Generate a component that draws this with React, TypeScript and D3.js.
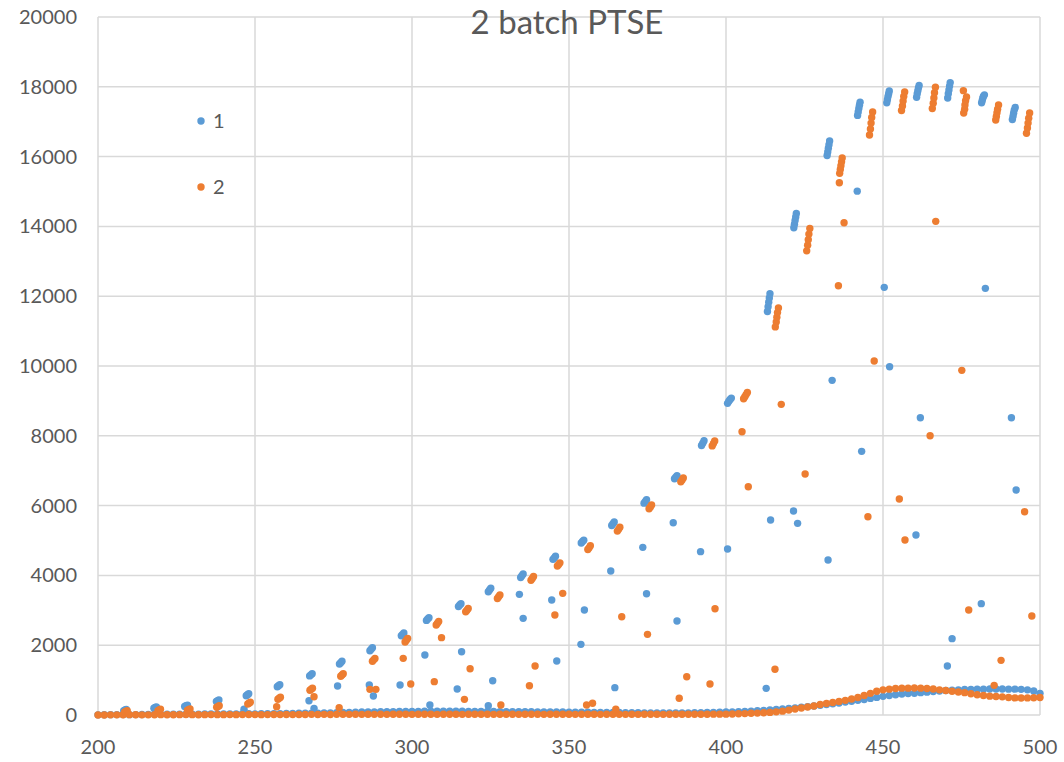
import * as d3 from "d3";

const title = "2 batch PTSE";
const seriesNames = ["1", "2"];
const seriesColors = ["#5b9bd5", "#ed7d31"];
const xTicks = [200, 250, 300, 350, 400, 450, 500];
const yTicks = [0, 2000, 4000, 6000, 8000, 10000, 12000, 14000, 16000, 18000, 20000];

// low baseline readings, sampled every 2 units
const baseX = [
  200, 202, 204, 206, 208, 210, 212, 214, 216, 218, 220, 222, 224, 226, 228, 230, 232, 234, 236, 238,
  240, 242, 244, 246, 248, 250, 252, 254, 256, 258, 260, 262, 264, 266, 268, 270, 272, 274, 276, 278,
  280, 282, 284, 286, 288, 290, 292, 294, 296, 298, 300, 302, 304, 306, 308, 310, 312, 314, 316, 318,
  320, 322, 324, 326, 328, 330, 332, 334, 336, 338, 340, 342, 344, 346, 348, 350, 352, 354, 356, 358,
  360, 362, 364, 366, 368, 370, 372, 374, 376, 378, 380, 382, 384, 386, 388, 390, 392, 394, 396, 398,
  400, 402, 404, 406, 408, 410, 412, 414, 416, 418, 420, 422, 424, 426, 428, 430, 432, 434, 436, 438,
  440, 442, 444, 446, 448, 450, 452, 454, 456, 458, 460, 462, 464, 466, 468, 470, 472, 474, 476, 478,
  480, 482, 484, 486, 488, 490, 492, 494, 496, 498, 500,
];
const blueBase = [
  5, 8, 10, 12, 15, 10, 12, 15, 18, 20, 18, 20, 22, 25, 25, 22, 25, 28, 30, 30,
  28, 30, 32, 35, 35, 33, 35, 38, 40, 40, 42, 45, 48, 50, 52, 55, 58, 60, 65, 70,
  75, 80, 85, 88, 90, 92, 95, 98, 100, 102, 105, 105, 108, 108, 110, 110, 108, 110, 108, 105,
  105, 102, 100, 100, 98, 98, 95, 95, 92, 92, 90, 88, 88, 85, 85, 82, 80, 80, 78, 75,
  75, 72, 70, 70, 68, 65, 65, 62, 60, 60, 58, 58, 60, 60, 62, 65, 68, 70, 75, 80,
  85, 90, 95, 100, 110, 120, 130, 145, 160, 175, 190, 205, 220, 240, 260, 280, 300, 320, 345, 370,
  395, 420, 445, 475, 505, 535, 560, 580, 600, 615, 625, 640, 655, 670, 685, 700, 710, 720, 730, 735,
  740, 740, 745, 745, 745, 740, 740, 735, 720, 690, 620,
];
const orangeBase = [
  0, 2, 5, 5, 8, 10, 8, 5, 5, 8, 10, 8, 8, 10, 12, 10, 8, 10, 12, 10,
  10, 12, 10, 12, 15, 12, 10, 12, 15, 12, 15, 12, 15, 15, 18, 15, 18, 15, 18, 20,
  18, 20, 18, 20, 18, 20, 18, 20, 22, 20, 18, 20, 22, 20, 18, 20, 22, 20, 18, 20,
  22, 20, 20, 18, 20, 22, 20, 18, 20, 22, 20, 18, 20, 22, 20, 20, 18, 20, 22, 20,
  18, 20, 22, 20, 18, 20, 18, 20, 22, 20, 18, 20, 22, 20, 20, 22, 20, 22, 25, 25,
  25, 30, 35, 40, 50, 55, 65, 75, 90, 110, 140, 170, 200, 230, 260, 300, 330, 360, 390, 420,
  460, 500, 560, 620, 680, 720, 740, 760, 770, 770, 775, 770, 760, 745, 720, 700, 680, 660, 640, 610,
  580, 560, 540, 530, 520, 500, 490, 485, 490, 495, 500,
];

// repeated peak readings, grouped near each step
const blueClusters: [number, number][] = [
  [208.2, 125], [208.6, 145], [209.0, 160],
  [217.8, 195], [218.2, 215], [218.6, 230],
  [227.6, 245], [228.0, 265], [228.5, 280],
  [237.7, 385], [238.1, 410], [238.5, 430],
  [247.2, 550], [247.6, 580], [248.0, 610],
  [257.1, 810], [257.5, 840], [257.9, 870],
  [267.4, 1120], [267.8, 1150], [268.2, 1185],
  [276.9, 1460], [277.3, 1500], [277.7, 1540],
  [286.6, 1840], [287.0, 1885], [287.4, 1930],
  [296.6, 2270], [297.0, 2310], [297.4, 2350],
  [304.6, 2710], [305.0, 2750], [305.4, 2790],
  [314.8, 3110], [315.2, 3150], [315.6, 3190],
  [324.3, 3530], [324.7, 3580], [325.1, 3630],
  [334.6, 3940], [335.0, 3990], [335.4, 4040],
  [344.9, 4460], [345.3, 4500], [345.7, 4550],
  [353.9, 4930], [354.3, 4970], [354.7, 5010],
  [363.6, 5430], [364.0, 5480], [364.4, 5530],
  [373.9, 6070], [374.3, 6120], [374.7, 6170],
  [383.6, 6770], [384.0, 6815], [384.4, 6860],
  [392.2, 7720], [392.6, 7790], [393.0, 7860],
  [400.5, 8930], [400.9, 8990], [401.3, 9040], [401.7, 9080],
  [413.2, 11560], [413.4, 11700], [413.6, 11830], [413.8, 11950], [414.0, 12070],
  [421.6, 13960], [421.8, 14060], [422.0, 14170], [422.2, 14270], [422.4, 14370],
  [432.2, 16030], [432.4, 16130], [432.6, 16240], [432.8, 16340], [433.0, 16450],
  [441.9, 17180], [442.1, 17280], [442.3, 17380], [442.5, 17470], [442.7, 17560],
  [451.2, 17540], [451.4, 17630], [451.6, 17720], [451.8, 17800], [452.0, 17880],
  [460.7, 17700], [460.9, 17800], [461.1, 17890], [461.3, 17970], [461.5, 18040],
  [470.6, 17680], [470.8, 17800], [471.0, 17910], [471.2, 18020], [471.4, 18120],
  [481.4, 17540], [481.6, 17610], [481.8, 17680], [482.0, 17730], [482.3, 17770],
  [491.2, 17060], [491.4, 17150], [491.6, 17240], [491.8, 17330], [492.1, 17410],
];
const orangeClusters: [number, number][] = [
  [208.5, 85], [208.9, 105], [209.3, 125],
  [219.1, 125], [219.5, 145], [219.9, 165],
  [228.5, 135], [228.9, 155], [229.3, 175],
  [237.8, 220], [238.2, 240], [238.6, 265],
  [247.7, 315], [248.1, 340], [248.5, 365],
  [257.3, 450], [257.7, 480], [258.1, 510],
  [267.5, 710], [267.9, 740], [268.3, 770],
  [277.3, 1110], [277.7, 1145], [278.1, 1180],
  [287.4, 1540], [287.8, 1580], [288.2, 1620],
  [297.8, 2090], [298.2, 2140], [298.6, 2190],
  [307.7, 2580], [308.1, 2630], [308.5, 2680],
  [317.1, 2960], [317.5, 3000], [317.9, 3050],
  [327.2, 3340], [327.6, 3390], [328.0, 3440],
  [337.9, 3860], [338.3, 3910], [338.7, 3970],
  [346.3, 4270], [346.7, 4310], [347.1, 4360],
  [356.0, 4740], [356.4, 4790], [356.8, 4850],
  [365.4, 5270], [365.8, 5320], [366.2, 5380],
  [375.5, 5910], [375.9, 5960], [376.3, 6020],
  [385.6, 6680], [386.0, 6730], [386.4, 6790],
  [395.6, 7710], [396.0, 7780], [396.4, 7850],
  [405.6, 9060], [406.0, 9120], [406.4, 9180], [406.8, 9240],
  [415.7, 11120], [416.0, 11260], [416.2, 11400], [416.4, 11530], [416.7, 11660],
  [425.7, 13300], [426.0, 13460], [426.2, 13620], [426.4, 13780], [426.7, 13940],
  [436.2, 15520], [436.4, 15630], [436.6, 15740], [436.8, 15850], [437.0, 15960],
  [445.7, 16620], [446.0, 16790], [446.2, 16960], [446.4, 17120], [446.7, 17280],
  [455.9, 17320], [456.2, 17450], [456.4, 17590], [456.6, 17720], [456.9, 17850],
  [465.7, 17380], [466.0, 17530], [466.2, 17680], [466.4, 17830], [466.7, 17990],
  [475.7, 17250], [476.0, 17360], [476.1, 17480], [476.3, 17600], [476.6, 17710],
  [485.9, 17050], [486.1, 17150], [486.3, 17260], [486.5, 17360], [486.8, 17480],
  [495.7, 16670], [496.0, 16820], [496.2, 16960], [496.4, 17100], [496.7, 17250],
];

// stray readings in between
const blueScatter: [number, number][] = [
  [246.5, 163], [267.2, 410], [268.8, 191], [276.3, 831], [286.4, 859], [287.7, 544],
  [296.2, 859], [304.1, 1719], [305.7, 287], [315.8, 1814], [314.4, 745], [325.7, 983],
  [324.3, 267], [334.2, 3457], [335.4, 2770], [344.5, 3295], [346.1, 1547], [354.9, 3008],
  [353.8, 2025], [363.3, 4126], [364.6, 783], [373.5, 4804], [374.7, 3476], [383.2, 5510],
  [384.4, 2694], [391.9, 4680], [400.5, 4756], [412.8, 764], [414.2, 5587], [421.5, 5845],
  [422.8, 5492], [432.5, 4441], [433.8, 9589], [441.8, 15010], [443.2, 7555], [450.4, 12253],
  [452.1, 9979], [460.5, 5157], [461.9, 8518], [470.5, 1404], [472.0, 2187], [481.3, 3190],
  [482.6, 12225], [490.9, 8518], [492.4, 6446],
];
const orangeScatter: [number, number][] = [
  [256.9, 238], [268.8, 525], [276.8, 210], [286.6, 735], [288.5, 735], [297.2, 1623],
  [299.6, 888], [309.4, 2216], [307.1, 955], [318.5, 1327], [316.7, 449], [328.3, 287],
  [339.2, 1404], [337.4, 840], [348.0, 3486], [345.5, 2865], [355.6, 287], [357.5, 335],
  [366.8, 2817], [375.0, 2311], [364.9, 163], [387.5, 1098], [385.1, 478], [396.5, 3046],
  [394.9, 888], [405.1, 8117], [407.1, 6541], [415.6, 1309], [417.6, 8901], [425.2, 6904],
  [435.8, 12300], [436.1, 15250], [437.6, 14105], [445.2, 5682], [447.2, 10142], [455.2, 6188],
  [457.0, 5014], [465.0, 8002], [466.8, 14144], [475.1, 9875], [475.6, 17890], [477.3, 3008],
  [485.4, 850], [487.6, 1566], [495.1, 5825], [497.4, 2836],
];

const FONT = "Lato, 'Open Sans', sans-serif";
const TEXT = "#595959";
const GRID = "#d9d9d9";
const R = 3.7;

export default function App() {
  const width = 1064;
  const height = 762;
  const margin = { top: 17, right: 24, bottom: 47, left: 98 };

  const x = d3.scaleLinear().domain([200, 500]).range([margin.left, width - margin.right]);
  const y = d3.scaleLinear().domain([0, 20000]).range([height - margin.bottom, margin.top]);

  const blue: [number, number][] = baseX
    .map((v, i) => [v, blueBase[i]] as [number, number])
    .concat(blueClusters, blueScatter);
  const orange: [number, number][] = baseX
    .map((v, i) => [v, orangeBase[i]] as [number, number])
    .concat(orangeClusters, orangeScatter);
  const series = [blue, orange];

  return (
    <svg
      width={width}
      height={height}
      style={{ position: "absolute", left: 0, top: 0, background: "#fff" }}
      fontFamily={FONT}
    >
      {yTicks.map((t) => (
        <line key={"gy" + t} x1={x(200)} x2={x(500)} y1={y(t)} y2={y(t)} stroke={GRID} strokeWidth={1.5} />
      ))}
      {xTicks.map((t) => (
        <line key={"gx" + t} x1={x(t)} x2={x(t)} y1={y(0)} y2={y(20000)} stroke={GRID} strokeWidth={1.5} />
      ))}

      {yTicks.map((t) => (
        <text key={"ly" + t} x={x(200) - 21} y={y(t)} dy="0.35em" textAnchor="end" fontSize={20} fill={TEXT}>
          {t}
        </text>
      ))}
      {xTicks.map((t) => (
        <text key={"lx" + t} x={x(t)} y={y(0) + 39} textAnchor="middle" fontSize={20} fill={TEXT}>
          {t}
        </text>
      ))}

      {series.map((pts, si) => (
        <g key={"s" + si} fill={seriesColors[si]}>
          {pts.map((d, i) => (
            <circle key={i} cx={x(d[0])} cy={y(d[1])} r={R} />
          ))}
        </g>
      ))}

      <text x={567} y={34} textAnchor="middle" fontSize={33} fill={TEXT}>
        {title}
      </text>

      {seriesNames.map((name, i) => (
        <g key={"lg" + name} transform={`translate(201, ${121 + i * 66})`}>
          <circle r={R} fill={seriesColors[i]} />
          <text x={12} dy="0.35em" fontSize={20} fill={TEXT}>
            {name}
          </text>
        </g>
      ))}
    </svg>
  );
}
